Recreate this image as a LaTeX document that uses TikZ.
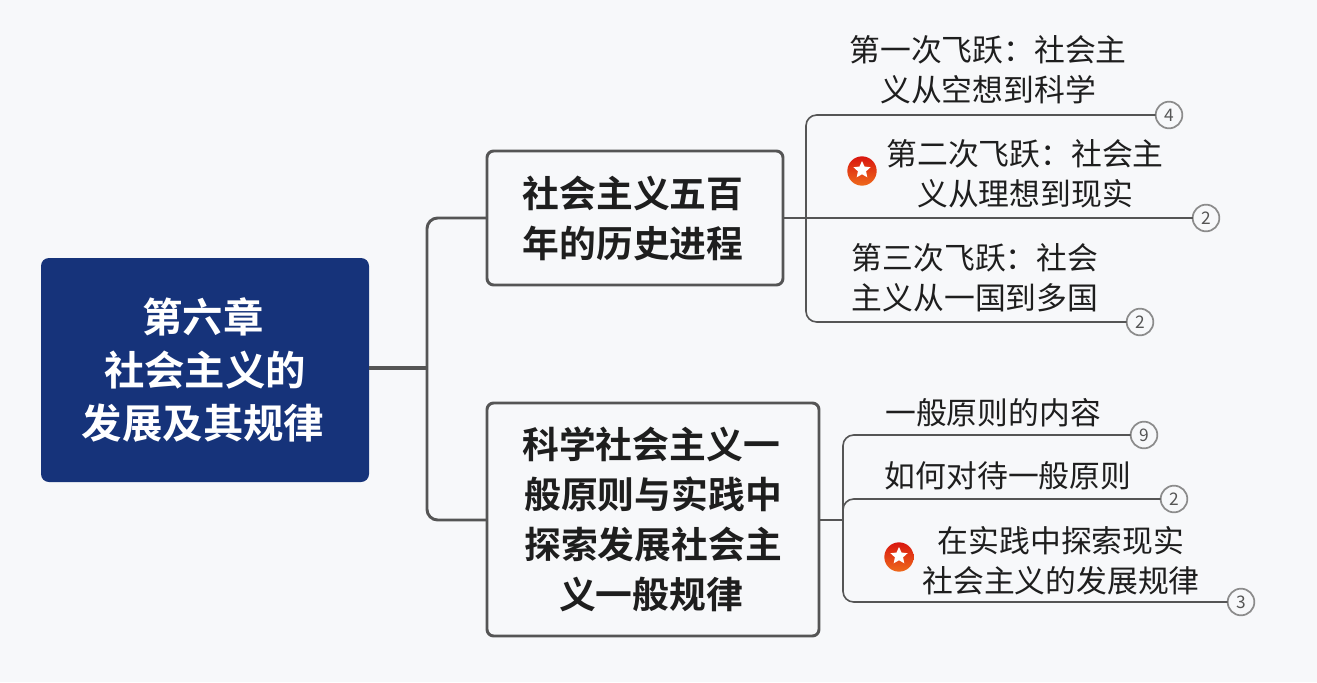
\documentclass[tikz,border=0pt]{standalone}
\usepackage{fontspec}
\usetikzlibrary{shapes.geometric,calc}
\newfontfamily\cjk{Noto Sans CJK SC}
\newfontfamily\cjkbold{Noto Sans CJK SC Bold}
\definecolor{bgc}{HTML}{F7F8FA}
\definecolor{rootc}{HTML}{16337A}
\definecolor{linec}{HTML}{555555}
\definecolor{thinc}{HTML}{555555}
\definecolor{txtc}{HTML}{1E1E1E}
\definecolor{starT}{HTML}{D9160F}
\definecolor{starB}{HTML}{EE6A1C}
\newcommand{\nudge}{\hspace*{3pt}}
\tikzset{
  every node/.style={inner sep=0pt,outer sep=0pt},
  rootbox/.style={fill=rootc,rounded corners=6pt,text=white,align=center,font=\cjkbold\fontsize{30.3}{39.8}\selectfont},
  mainbox/.style={draw=linec,line width=2.2pt,fill=bgc,rounded corners=5pt,text=txtc,align=center,font=\cjkbold\fontsize{27.6}{37.5}\selectfont},
  leaf/.style={text=txtc,align=center,font=\cjk\fontsize{23.1}{30}\selectfont},
  count/.style={circle,draw=gray!90,line width=1.3pt,fill=bgc,minimum size=20pt,text=thinc,font=\cjk\fontsize{13}{13}\selectfont},
  thick link/.style={draw=linec,line width=2.2pt,rounded corners=8pt},
  thin link/.style={draw=thinc,line width=1.2pt,rounded corners=8pt},
  badge/.style={circle,minimum size=22pt,top color=starT,bottom color=starB},
  badge star/.style={star,star points=5,star point ratio=2.1,fill=white,minimum size=13.5pt}
}
\begin{document}
\begin{tikzpicture}[x=0.75pt,y=-0.75pt]
\useasboundingbox (0,0) rectangle (1317,682);
\fill[bgc] (0,0) rectangle (1317,682);
% nodes
\node[rootbox,minimum width=246pt,minimum height=168pt] (root) at (205,370) {第六章\nudge\\社会主义的\nudge\\发展及其规律\nudge};
\node[mainbox,minimum width=222pt,minimum height=100.5pt] (a) at (635,218) {社会主义五百\nudge\\年的历史进程\nudge};
\node[mainbox,minimum width=249pt,minimum height=174.75pt] (b) at (653,519.5) {科学社会主义一\nudge\\般原则与实践中\nudge\\探索发展社会主\nudge\\义一般规律\nudge};
\node[leaf] (a1) at (988,70) {第一次飞跃：社会主\\义从空想到科学};
\node[leaf] (a2) at (1025,174) {第二次飞跃：社会主\\义从理想到现实};
\node[leaf] (a3) at (975,278) {第三次飞跃：社会\\主义从一国到多国};
\node[leaf] (b1) at (993,413) {一般原则的内容};
\node[leaf] (b2) at (1008,476) {如何对待一般原则};
\node[leaf] (b3) at (1061,560.5) {在实践中探索现实\\社会主义的发展规律};
\node[count] (ca1) at (1169,115) {4};
\node[count] (ca2) at (1206,218) {2};
\node[count] (ca3) at (1140,322) {2};
\node[count] (cb1) at (1144,435) {9};
\node[count] (cb2) at (1174,499) {2};
\node[count] (cb3) at (1241,602) {3};
\node[badge] (s1) at (862,171) {};
\node[badge star] (s1w) at (862,170) {};
\node[badge] (s2) at (899,557) {};
\node[badge star] (s2w) at (899,556) {};
% junctions
\coordinate (ja) at (427,368);
\coordinate (jt) at (806,218);
\coordinate (jb) at (843,520);
% connectors
\draw[thick link,line width=2.8pt] (root.east |- ja) -- (ja);
\draw[thick link] (a.west) -| (ja) |- (b.west |- jb);
\draw[thin link] (a.east) -- (ca2.west);
\draw[thin link] (ca1.west) -| (jt) |- (ca3.west);
\draw[thin link] (b.east |- jb) -- (jb);
\draw[thin link] (cb1.west) -| (jb) |- (cb3.west);
\draw[thin link] (cb2.west) -| (jb);
\end{tikzpicture}
\end{document}
